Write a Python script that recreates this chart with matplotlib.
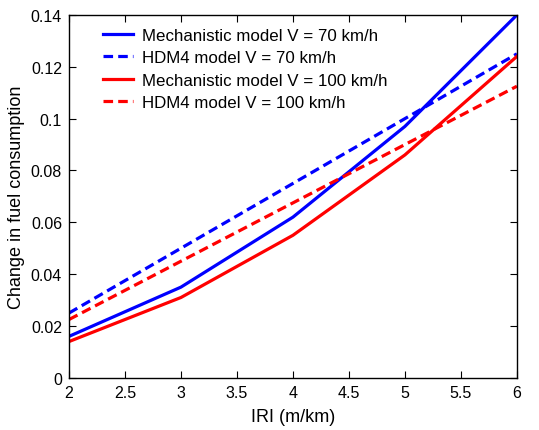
import matplotlib.pyplot as plt
import numpy as np

plt.rcParams['font.family'] = ['Liberation Sans', 'DejaVu Sans']

IRI = [2, 3, 4, 5, 6]
MECH_70 = [0.016, 0.035, 0.062, 0.097, 0.140]
HDM4_70 = [0.025, 0.050, 0.075, 0.100, 0.125]
MECH_100 = [0.014, 0.031, 0.055, 0.086, 0.124]
HDM4_100 = [0.0225, 0.045, 0.0675, 0.090, 0.1125]

LABELS = ["Mechanistic model V = 70 km/h", "HDM4 model V = 70 km/h",
          "Mechanistic model V = 100 km/h", "HDM4 model V = 100 km/h"]


def main():
    fig = plt.figure(figsize=(5.39, 4.31), dpi=100)
    ax = fig.add_axes([0.128, 0.121, 0.831, 0.842])

    dash = (0, (3, 1.6))
    ax.plot(IRI, MECH_70, color="#0000ff", lw=2.3, label=LABELS[0])
    ax.plot(IRI, HDM4_70, color="#0000ff", lw=2.3, ls=dash, label=LABELS[1])
    ax.plot(IRI, MECH_100, color="#ff0000", lw=2.3, label=LABELS[2])
    ax.plot(IRI, HDM4_100, color="#ff0000", lw=2.3, ls=dash, label=LABELS[3])

    ax.set_xlim(2, 6)
    ax.set_ylim(0, 0.14)
    ax.set_xticks(np.arange(2, 6.01, 0.5))
    ax.set_xticklabels(["2", "2.5", "3", "3.5", "4", "4.5", "5", "5.5", "6"])
    ax.set_yticks(np.arange(0, 0.141, 0.02))
    ax.set_yticklabels(["0", "0.02", "0.04", "0.06", "0.08", "0.1", "0.12", "0.14"])
    ax.tick_params(direction="in", top=True, right=True, length=5, width=0.8,
                   labelsize=11.5, pad=5)
    for s in ax.spines.values():
        s.set_linewidth(1.0)

    ax.set_xlabel("IRI (m/km)", fontsize=13, labelpad=6)
    ax.set_ylabel("Change in fuel consumption", fontsize=13, labelpad=4)

    ax.legend(loc="upper left", frameon=False, fontsize=12.2, handlelength=1.8,
              borderaxespad=0, labelspacing=0.45, handletextpad=0.5,
              bbox_to_anchor=(0.06, 0.984))

    fig.savefig("out.png", dpi=100)


main()
